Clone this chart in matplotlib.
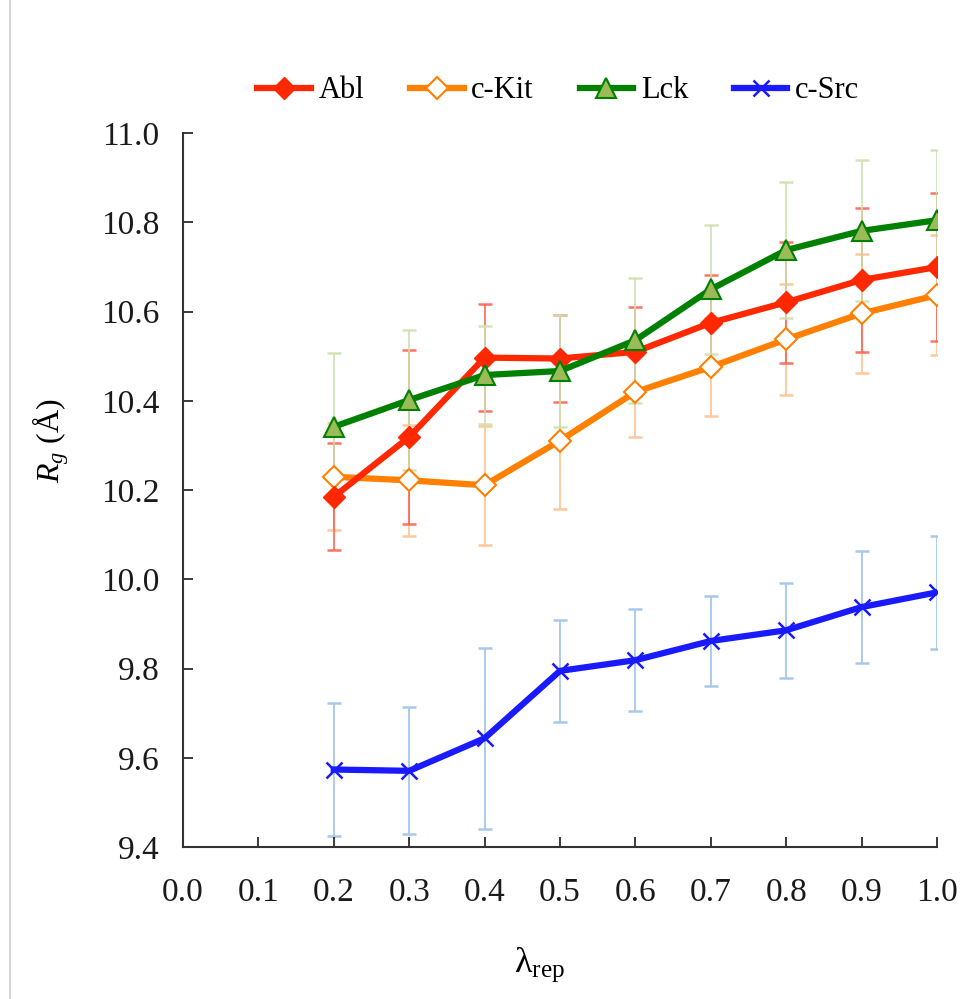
import matplotlib.pyplot as plt
from matplotlib.lines import Line2D

plt.rcParams['font.family'] = ['Liberation Serif', 'DejaVu Serif']
plt.rcParams['mathtext.fontset'] = 'custom'
plt.rcParams['mathtext.rm'] = 'Liberation Serif'
plt.rcParams['mathtext.it'] = 'Liberation Serif:italic'

lam = [0.2, 0.3, 0.4, 0.5, 0.6, 0.7, 0.8, 0.9, 1.0]

abl = [10.185, 10.319, 10.497, 10.495, 10.510, 10.575, 10.621, 10.671, 10.700]
abl_err = [0.12, 0.195, 0.12, 0.098, 0.10, 0.108, 0.136, 0.162, 0.166]

ckit = [10.230, 10.222, 10.211, 10.311, 10.420, 10.476, 10.538, 10.596, 10.637]
ckit_err = [0.12, 0.125, 0.133, 0.154, 0.10, 0.109, 0.125, 0.134, 0.134]

lck = [10.342, 10.402, 10.458, 10.467, 10.536, 10.650, 10.738, 10.781, 10.805]
lck_err = [0.166, 0.157, 0.11, 0.125, 0.14, 0.145, 0.153, 0.158, 0.157]

csrc = [9.574, 9.571, 9.644, 9.795, 9.819, 9.862, 9.886, 9.938, 9.971]
csrc_err = [0.148, 0.142, 0.203, 0.114, 0.115, 0.10, 0.106, 0.126, 0.126]

fig = plt.figure(figsize=(9.61, 9.99), dpi=100)
ax = fig.add_axes([0.1904, 0.152, 0.7846, 0.7147])

# error bars first, pale, behind the lines
eb = dict(fmt='none', elinewidth=1.3, capsize=5, capthick=1.8, zorder=1)
ax.errorbar(lam, ckit, yerr=ckit_err, ecolor='#FFC89A', **eb)
ax.errorbar(lam, abl, yerr=abl_err, ecolor='#FF5A4A', alpha=0.85, **eb)
ax.errorbar(lam, lck, yerr=lck_err, ecolor='#CFE0B0', alpha=0.9, **eb)
ax.errorbar(lam, csrc, yerr=csrc_err, ecolor='#A6C8EC', **eb)

st_abl = dict(color='#FF2800', lw=4.5, marker='D', ms=11, mfc='#FF2800', mec='#FF2800')
st_ckit = dict(color='#FF8000', lw=4.5, marker='D', ms=11, mfc='white', mec='#FF8000', mew=1.5)
st_lck = dict(color='#008000', lw=4.5, marker='^', ms=15, mfc='#9BBB59', mec='#008000', mew=1.5)
st_csrc = dict(color='#1A1AFF', lw=4.5, marker='x', ms=12, mec='#1A1AFF', mew=1.8)

ax.plot(lam, ckit, zorder=3, **st_ckit)
ax.plot(lam, abl, zorder=4, **st_abl)
ax.plot(lam, lck, zorder=5, **st_lck)
ax.plot(lam, csrc, zorder=3, **st_csrc)

ax.set_xlim(0, 1.0)
ax.set_ylim(9.4, 11.0)
ax.set_xticks([i / 10 for i in range(11)])
ax.set_xticklabels([f'{i / 10:.1f}' for i in range(11)])
ax.set_yticks([9.4 + 0.2 * i for i in range(9)])
ax.set_yticklabels([f'{9.4 + 0.2 * i:.1f}' for i in range(9)])
ax.tick_params(direction='in', length=7, width=1.2, labelsize=24, colors='#1a1a1a')
ax.tick_params(axis='x', pad=22)
ax.tick_params(axis='y', pad=17)
ax.spines['top'].set_visible(False)
ax.spines['right'].set_visible(False)
for s in ('left', 'bottom'):
    ax.spines[s].set_linewidth(1.5)
    ax.spines[s].set_color('#333333')

ax.set_ylabel(r'$R_g$ (Å)', fontsize=23, ha='center', va='center')
ax.yaxis.set_label_coords(-0.176, 0.57)
ax.set_xlabel(r'λ$_{\mathrm{rep}}$', fontsize=26, ha='center', va='center')
ax.xaxis.set_label_coords(0.473, -0.165)

handles = [Line2D([], [], **st_abl), Line2D([], [], **st_ckit),
           Line2D([], [], **st_lck), Line2D([], [], **st_csrc)]
fig.legend(handles, ['Abl', 'c-Kit', 'Lck', 'c-Src'], loc='center', bbox_to_anchor=(0.581, 0.909),
           ncol=4, frameon=False, fontsize=22, handlelength=1.75, columnspacing=1.5, handletextpad=0.25)

# thin page border on the left edge
fig.add_artist(Line2D([0.0105, 0.0105], [0, 1], color='#D0D0D0', lw=1.2, transform=fig.transFigure))

fig.savefig('out.png', dpi=100)
